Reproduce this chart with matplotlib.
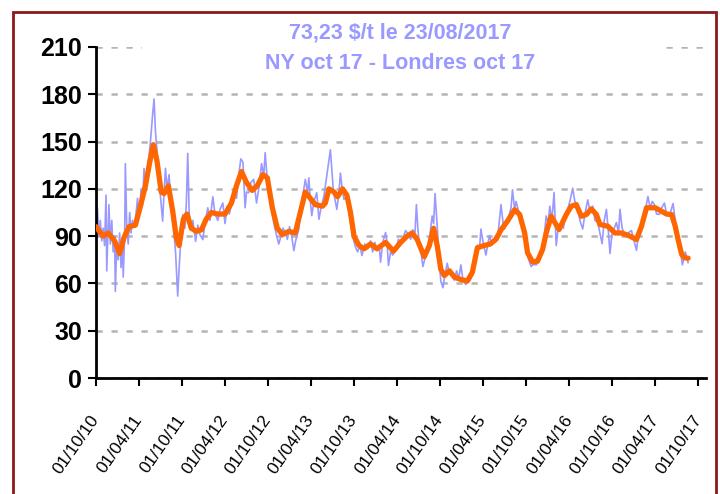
import matplotlib

matplotlib.use("Agg")
import matplotlib.pyplot as plt
import matplotlib.transforms as mtrans
from matplotlib.patches import Rectangle

plt.rcParams["font.family"] = ["Liberation Sans", "DejaVu Sans"]

# months since 01/10/2010
orange_m = [0, 1.0, 1.7, 2.6, 3.3, 3.9, 4.6, 5.5, 6.2, 6.9, 7.5, 8.0, 8.5, 9.1, 9.5,
            10.1, 10.7, 11.2, 11.6, 12.2, 12.7, 13.3, 14.0, 14.7, 15.4, 16.1, 17.0,
            18.0, 18.9, 19.6, 20.3, 21.0, 21.8, 22.5, 23.3, 23.9, 24.6, 25.3, 26.0,
            26.9, 27.8, 28.5, 29.2, 29.9, 30.6, 31.6, 32.0, 32.5, 33.2, 33.7, 34.4,
            35.0, 35.5, 36.0, 36.7, 37.4, 38.3, 39.2, 40.4, 41.5, 42.5, 43.4, 44.1,
            44.8, 45.8, 46.5, 47.1, 47.6, 48.1, 48.6, 49.3, 50.0, 50.9, 51.8, 52.5,
            53.2, 54.1, 55.0, 55.8, 56.5, 57.4, 58.4, 59.1, 59.8, 60.2, 60.9, 61.6,
            62.3, 62.8, 63.5, 63.9, 64.6, 65.6, 66.3, 67.0, 67.7, 68.4, 69.1, 69.8,
            70.3, 71.4, 72.4, 73.3, 74.3, 75.4, 76.1, 76.8, 78.0, 78.9, 79.6, 80.3,
            80.8, 81.2, 81.7, 82.1, 82.6]
orange_v = [96, 90, 92, 87, 79, 89, 96, 97, 109, 122, 137, 148, 138, 118, 117,
            122, 106, 89, 84, 101, 104, 95, 93, 94, 101, 105, 104,
            104, 111, 122, 131, 124, 119, 122, 129, 127, 108, 95, 91,
            93, 92, 105, 118, 114, 110, 109, 111, 120, 118, 115, 120,
            116, 105, 90, 84, 82, 85, 82, 86, 80.5, 86, 90, 92,
            88, 77, 84, 95, 84, 69, 65, 68, 64, 62.5, 61.5, 67,
            82.6, 84, 85, 88, 94, 99.5, 106.8, 103.7, 92, 79.5, 73.6, 74.2,
            81.6, 92, 102.6, 99.5, 94.2, 103.7, 109, 110, 102.6, 103.7, 107.3, 103.7,
            97.4, 96.3, 92, 92, 90.4, 87.9, 96.3, 108, 108, 105.8, 104, 103.7,
            96.3, 87.9, 78.4, 76.3, 76]

blue_m = [0.0, 0.2, 0.4, 0.6, 0.8, 1.0, 1.2, 1.4, 1.5, 1.7, 1.8, 2.0, 2.2, 2.4, 2.6,
          2.7, 2.9, 3.1, 3.3, 3.5, 3.7, 3.8, 4.0, 4.1, 4.3, 4.5, 4.7, 4.9, 5.1, 5.4,
          5.8, 6.0, 6.3, 6.5, 6.7, 6.9, 7.1, 7.4, 7.6, 7.9, 8.1, 8.3, 8.5, 8.8, 9.0,
          9.3, 9.5, 9.7, 9.9, 10.2, 10.4, 10.7, 10.9, 11.1, 11.4, 11.6, 11.8, 12.1,
          12.4, 12.6, 12.8, 13.0, 13.2, 13.5, 13.9, 14.2, 14.5, 14.9, 15.2, 15.6,
          15.9, 16.3, 16.6, 17.0, 17.3, 17.7, 18.0, 18.3, 18.6, 19.0, 19.3, 19.6,
          19.9, 20.2, 20.5, 20.8, 21.0, 21.3, 21.6, 22.0, 22.4, 22.7, 23.1, 23.4,
          23.6, 24.0, 24.3, 24.8, 25.1, 25.5, 25.8, 26.1, 26.4, 26.7, 27.0, 27.3,
          27.6, 27.9, 28.3, 28.5, 28.7, 29.0, 29.2, 29.5, 29.7, 29.9, 30.1, 30.4,
          30.8, 31.1, 31.4, 31.8, 32.0, 32.3, 32.7, 33.1, 33.3, 33.6, 33.9, 34.1,
          34.4, 34.6, 35.0, 35.2, 35.5, 35.8, 36.2, 36.5, 36.8, 37.1, 37.5, 37.9,
          38.3, 38.6, 38.9, 39.2, 39.5, 39.7, 40.0, 40.4, 40.6, 40.8, 41.1, 41.4,
          41.8, 42.2, 42.6, 42.9, 43.2, 43.6, 43.9, 44.2, 44.5, 44.7, 44.9, 45.1,
          45.4, 45.6, 45.9, 46.2, 46.5, 46.9, 47.1, 47.3, 47.5, 47.6, 47.8, 48.1,
          48.4, 48.7, 49.0, 49.3, 49.7, 50.0, 50.3, 50.6, 50.9, 51.2, 51.6, 51.9,
          52.2, 52.5, 52.8, 53.2, 53.5, 53.7, 54.0, 54.4, 54.7, 54.9, 55.2, 55.5,
          55.8, 56.1, 56.5, 56.8, 57.0, 57.3, 57.6, 57.9, 58.1, 58.4, 58.6, 59.0,
          59.3, 59.6, 60.0, 60.3, 60.7, 61.0, 61.4, 61.8, 62.1, 62.5, 62.8, 63.1,
          63.3, 63.6, 63.9, 64.2, 64.5, 64.9, 65.2, 65.5, 65.8, 66.1, 66.5, 66.8,
          67.2, 67.5, 67.9, 68.2, 68.6, 68.9, 69.3, 69.6, 70.0, 70.3, 70.6, 70.9,
          71.2, 71.5, 71.7, 72.0, 72.3, 72.6, 72.9, 73.1, 73.4, 73.8, 74.2, 74.7,
          75.0, 75.4, 75.7, 76.0, 76.3, 76.6, 77.0, 77.3, 77.6, 77.9, 78.2, 78.6,
          78.9, 79.3, 79.6, 79.9, 80.2, 80.5, 80.8, 81.0, 81.2, 81.4, 81.6, 81.8,
          82.0, 82.2, 82.4, 82.6]
blue_v = [98, 108, 90, 100, 87, 95, 84, 116, 68, 96, 110, 85, 100, 80, 90,
          55, 86, 75, 92, 70, 88, 64, 90, 136, 95, 85, 105, 92, 100, 96,
          114, 102, 120, 110, 133, 120, 130, 141, 150, 167, 177, 156, 145, 127, 115,
          99.5, 118, 133, 120, 129, 115, 103.6, 92, 80, 52, 70, 85, 103.6,
          95, 110, 142.5, 105, 95, 100, 86.7, 97, 91, 87.8, 98, 108,
          100, 115, 104, 100, 107, 111, 98, 109, 104, 112, 120, 114,
          128, 139, 137, 108, 118, 117.5, 124, 126, 111, 120, 136, 128,
          143, 119.6, 112, 98.6, 92, 85, 90, 95, 92.3, 88, 96, 90,
          80.8, 88, 94.4, 105, 112, 120, 126, 118, 127, 112, 103, 112,
          117.5, 100.7, 108, 115.4, 122, 132, 144.8, 119.6, 114, 107, 118, 130,
          118, 113.3, 115.4, 108, 98.6, 90, 83, 80, 84, 77.7, 85, 82,
          87, 80, 86, 80.8, 84, 73.5, 86, 92.3, 86, 71.4, 80, 78,
          82, 88, 85, 90, 93.5, 91, 88, 94, 92, 110, 95, 84,
          78, 70.7, 76, 82, 88, 102.8, 98, 117, 104, 96.6, 80, 61.4,
          57.3, 66, 72.8, 66, 65.5, 62, 68, 63, 71.8, 62, 59.3, 63,
          62, 67.6, 76, 84.2, 82, 94.5, 86, 78, 86, 90.4, 85, 88,
          90.4, 92, 110, 98, 94.5, 100, 102.8, 108, 119.4, 107, 112, 105,
          102.8, 92, 84.2, 76, 70.7, 72, 71.8, 74, 78, 88, 102.8, 98,
          109, 100, 117.7, 84, 96, 98.7, 95, 104, 107, 112, 120.4, 112,
          110, 100, 94.5, 104, 113, 106, 109, 100, 98.7, 92, 85.2, 100,
          107, 92, 79, 92, 95, 98.7, 92, 107, 95, 90.4, 92, 93.5,
          88, 81, 92, 96, 100.8, 106, 115.2, 108, 112, 110, 104, 103.8,
          108, 111, 104, 102.8, 106, 110.7, 100, 92.5, 86, 82, 78, 71.8,
          76, 80, 77, 73.2]

tick_m = list(range(0, 85, 6))
tick_labels = ["01/10/10", "01/04/11", "01/10/11", "01/04/12", "01/10/12",
               "01/04/13", "01/10/13", "01/04/14", "01/10/14", "01/04/15",
               "01/10/15", "01/04/16", "01/10/16", "01/04/17", "01/10/17"]
y_ticks = [0, 30, 60, 90, 120, 150, 180, 210]

title_1 = "73,23 $/t le 23/08/2017"
title_2 = "NY oct 17 - Londres oct 17"

fig = plt.figure(figsize=(7.2, 4.94), dpi=100)
ax = fig.add_axes([0.1333, 0.2348, 0.8473, 0.6701])

ax.plot(blue_m, blue_v, color="#9999FF", lw=1.2, zorder=2)
ax.plot(orange_m, orange_v, color="#FF6600", lw=3.8, zorder=3,
        solid_joinstyle="round", solid_capstyle="round")

ax.set_xlim(0, 85.1)
ax.set_ylim(0, 210)
ax.set_yticks(y_ticks)
ax.set_xticks(tick_m)
ax.set_xticklabels(tick_labels, rotation=55, ha="right", va="center",
                   rotation_mode="anchor", fontsize=12.5)
shift = mtrans.ScaledTranslation(-0.05, 0, fig.dpi_scale_trans)
for lbl in ax.get_xticklabels():
    lbl.set_transform(lbl.get_transform() + shift)
for lbl in ax.get_yticklabels():
    lbl.set_fontsize(18)
    lbl.set_fontweight("bold")

ax.yaxis.grid(True, color="#B4B4B4", ls=(0, (2.5, 3.5)), lw=1.8, zorder=1)
ax.set_axisbelow(True)
for s in ("top", "right"):
    ax.spines[s].set_visible(False)
for s in ("left", "bottom"):
    ax.spines[s].set_linewidth(2)
ax.tick_params(axis="both", direction="out", length=6, width=1.5, color="black")
ax.tick_params(axis="x", pad=22)
ax.tick_params(axis="y", pad=4)

# white box behind the title hiding the top gridline
ax.add_patch(Rectangle((0.075, 0.97), 0.855, 0.2, transform=ax.transAxes,
                       facecolor="white", edgecolor="none", zorder=4, clip_on=False))
fig.text(0.556, 0.933, title_1, ha="center", va="center", fontsize=15.5,
         fontweight="bold", color="#9999FF", zorder=5)
fig.text(0.556, 0.872, title_2, ha="center", va="center", fontsize=15.5,
         fontweight="bold", color="#9999FF", zorder=5)

fig.add_artist(Rectangle((0.018, -0.1), 0.976, 1.075, transform=fig.transFigure,
                         facecolor="none", edgecolor="#8B1A1A", lw=2))

fig.savefig("out.png", dpi=100)
